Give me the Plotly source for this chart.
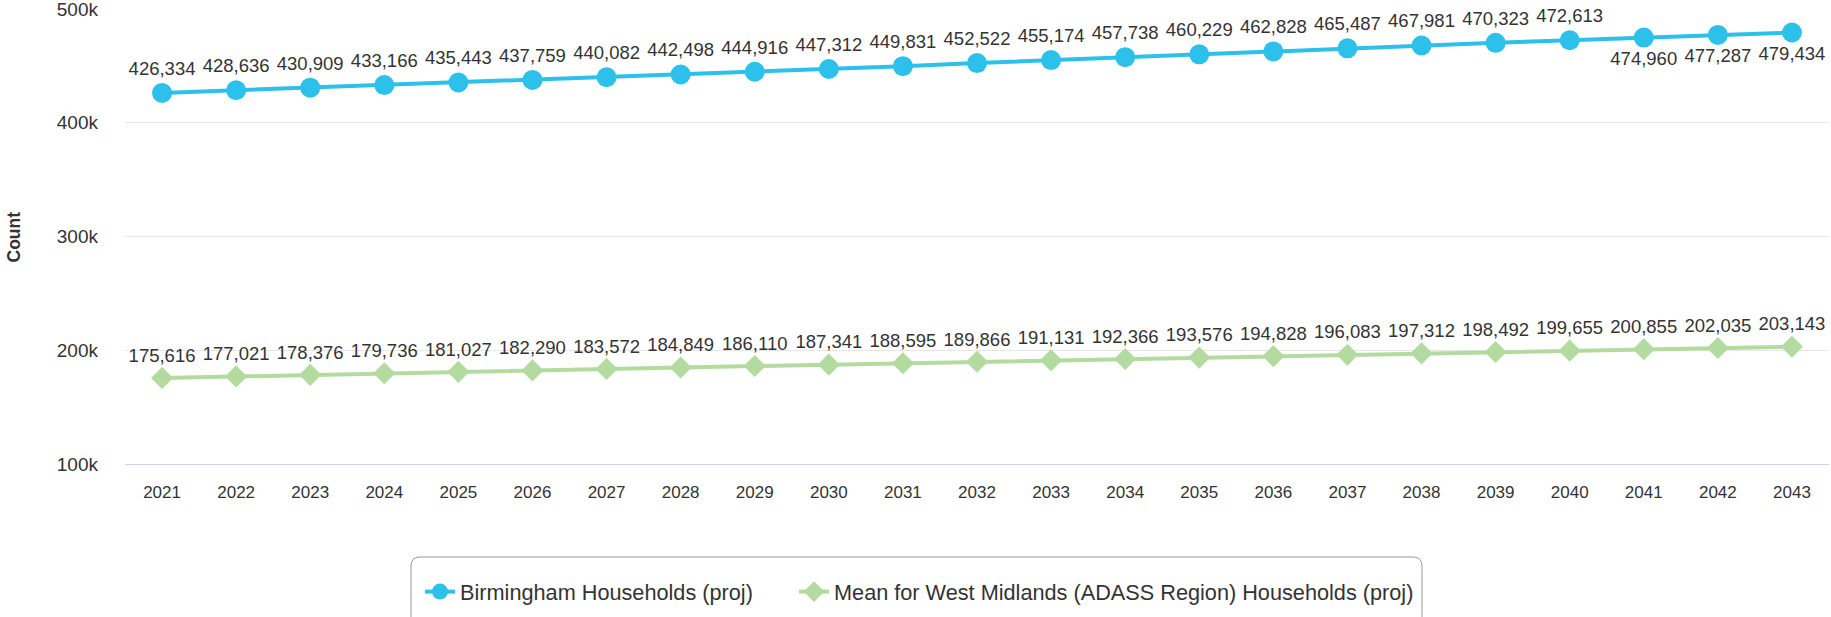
import plotly.graph_objects as go

years = list(range(2021, 2044))
birmingham = [426334, 428636, 430909, 433166, 435443, 437759, 440082, 442498, 444916, 447312,
              449831, 452522, 455174, 457738, 460229, 462828, 465487, 467981, 470323, 472613,
              474960, 477287, 479434]
west_midlands = [175616, 177021, 178376, 179736, 181027, 182290, 183572, 184849, 186110, 187341,
                 188595, 189866, 191131, 192366, 193576, 194828, 196083, 197312, 198492, 199655,
                 200855, 202035, 203143]
y_tickvals = [100000, 200000, 300000, 400000, 500000]
y_ticktext = ["100k", "200k", "300k", "400k", "500k"]
series_names = ["Birmingham Households (proj)",
                "Mean for West Midlands (ADASS Region) Households (proj)"]

FONT = "Liberation Sans, Arial, sans-serif"
BLUE = "#2cc0ea"
GREEN = "#b3dba0"
YMAX = 500000

W, H = 1831, 617
ML, MR, MT, MB = 125, 2, 9, 153
PW, PH = W - ML - MR, H - MT - MB


def fmt(v):
    return f"{v:,}"


def positions(vals):
    # labels that would overflow the top of the plot are drawn below the point
    return ["bottom center" if (YMAX - v) < 26000 else "top center" for v in vals]


def px_x(p):
    return (p - ML) / PW


def px_y(p):
    return (H - MB - p) / PH


fig = go.Figure()
fig.add_trace(go.Scatter(
    x=years, y=birmingham, name=series_names[0],
    mode="lines+markers+text",
    line=dict(color=BLUE, width=4),
    marker=dict(symbol="circle", size=20, color=BLUE),
    text=[fmt(v) for v in birmingham],
    textposition=positions(birmingham),
    textfont=dict(family=FONT, size=18.5, color="#333333"),
    cliponaxis=False,
    legendwidth=329,
))
fig.add_trace(go.Scatter(
    x=years, y=west_midlands, name=series_names[1],
    mode="lines+markers+text",
    line=dict(color=GREEN, width=4),
    marker=dict(symbol="diamond", size=17, color=GREEN),
    text=[fmt(v) for v in west_midlands],
    textposition=positions(west_midlands),
    textfont=dict(family=FONT, size=18.5, color="#333333"),
    cliponaxis=False,
))

# rounded legend frame
bx0, bx1, by0, by1, r = 411, 1422, 557, 640, 9
X0, X1 = px_x(bx0), px_x(bx1)
Y0, Y1 = px_y(by0), px_y(by1)
rx, ry = r / PW, r / PH
frame = (f"M {X0+rx},{Y0} L {X1-rx},{Y0} Q {X1},{Y0} {X1},{Y0-ry} "
         f"L {X1},{Y1+ry} Q {X1},{Y1} {X1-rx},{Y1} L {X0+rx},{Y1} Q {X0},{Y1} {X0},{Y1+ry} "
         f"L {X0},{Y0-ry} Q {X0},{Y0} {X0+rx},{Y0} Z")

fig.update_layout(
    width=W, height=H,
    margin=dict(l=ML, r=MR, t=MT, b=MB, autoexpand=False),
    paper_bgcolor="white", plot_bgcolor="white",
    font=dict(family=FONT, color="#333333"),
    showlegend=True,
    legend=dict(
        orientation="h",
        x=px_x(420), xanchor="left",
        y=px_y(592), yanchor="middle",
        borderwidth=0, bgcolor="rgba(0,0,0,0)",
        font=dict(family=FONT, size=21.7, color="#333333"),
        itemwidth=30,
    ),
    shapes=[dict(type="path", path=frame, xref="paper", yref="paper",
                 line=dict(color="#999999", width=1), fillcolor="rgba(0,0,0,0)",
                 layer="below")],
    xaxis=dict(
        range=[years[0] - 0.5, years[-1] + 0.5],
        tickvals=years, ticktext=[str(y) for y in years],
        showgrid=False, zeroline=False, automargin=False,
        showline=True, linecolor="#ccd6eb", linewidth=1,
        ticks="", ticklabelstandoff=13,
        tickfont=dict(family=FONT, size=17, color="#333333"),
    ),
    yaxis=dict(
        range=[100000, 500100],
        tickvals=y_tickvals, ticktext=y_ticktext,
        showgrid=True, gridcolor="#e6e6e6", gridwidth=1,
        zeroline=False, showline=False, automargin=False,
        ticks="", ticklabelstandoff=26, ticklabeloverflow="allow",
        tickfont=dict(family=FONT, size=19, color="#333333"),
    ),
    annotations=[dict(
        text="<b>Count</b>", textangle=-90,
        xref="paper", yref="paper", x=px_x(13), y=0.5,
        xanchor="center", yanchor="middle", showarrow=False,
        font=dict(family=FONT, size=17.5, color="#333333"),
    )],
)

fig.write_html(
    "out.html",
    config={"displayModeBar": False},
    post_script="document.body.style.margin='0px';document.body.style.overflow='hidden';",
)
